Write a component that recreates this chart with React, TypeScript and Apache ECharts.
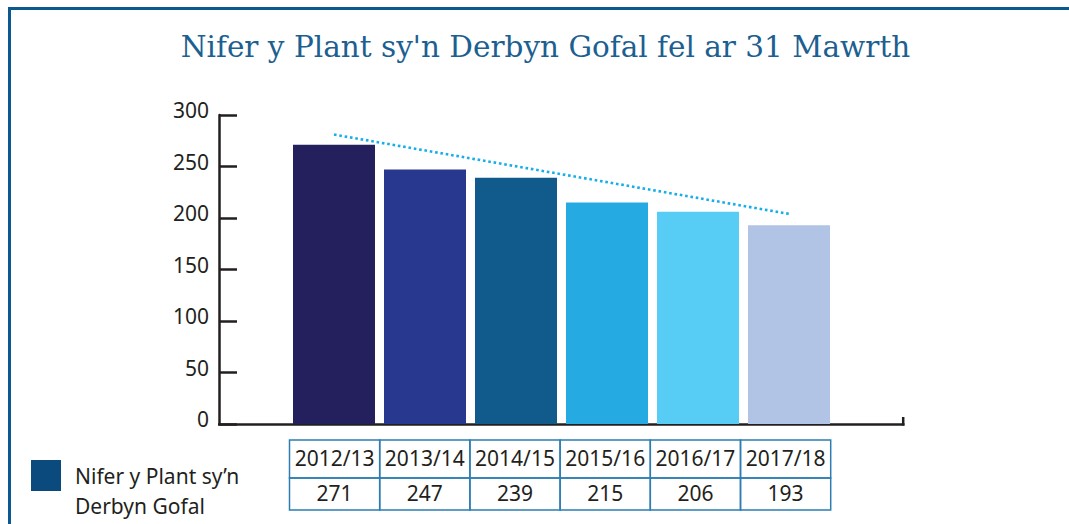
import React, { useEffect, useRef } from "react";
import * as echarts from "echarts";

const titleText = "Nifer y Plant sy'n Derbyn Gofal fel ar 31 Mawrth";
const seriesName = "Nifer y Plant sy’n\nDerbyn Gofal";
const categories = ["2012/13", "2013/14", "2014/15", "2015/16", "2016/17", "2017/18"];
const values = [271, 247, 239, 215, 206, 193];
const barColors = ["#24205e", "#28388f", "#115a8c", "#25abe2", "#57cdf6", "#b1c4e5"];
const trendValues = [281, null, null, null, null, 204];
const yTicks = { min: 0, max: 300, interval: 50 };

const FONT = "'Noto Sans', 'Open Sans', sans-serif";
const INK = "#231f20";

export default function App() {
  const ref = useRef<HTMLDivElement>(null);

  useEffect(() => {
    document.body.style.margin = "0";
    if (!ref.current) return;
    const chart = echarts.init(ref.current, undefined, { renderer: "svg" });

    const tableLeft = 289.5;
    const colW = 90.2;
    const rowTop = 440;
    const headH = 38;
    const valH = 32;
    const tableEls: any[] = [];
    categories.forEach((c, i) => {
      const x = tableLeft + i * colW;
      tableEls.push({
        type: "rect",
        shape: { x, y: rowTop, width: colW, height: headH },
        style: { fill: "none", stroke: "#2d7db3", lineWidth: 1.5 },
      });
      tableEls.push({
        type: "rect",
        shape: { x, y: rowTop + headH, width: colW, height: valH },
        style: { fill: "none", stroke: "#2d7db3", lineWidth: 1.5 },
      });
      tableEls.push({
        type: "text",
        x: x + colW / 2,
        y: rowTop + headH / 2 - 1.5,
        style: { text: c, fontSize: 21, fontFamily: FONT, fill: INK, align: "center", verticalAlign: "middle" },
      });
      tableEls.push({
        type: "text",
        x: x + colW / 2,
        y: rowTop + headH + valH / 2 - 1.5,
        style: { text: String(values[i]), fontSize: 21, fontFamily: FONT, fill: INK, align: "center", verticalAlign: "middle" },
      });
    });

    const option: any = {
      animation: false,
      grid: { left: 288.5, right: 234.5, top: 115, bottom: 100, containLabel: false },
      xAxis: {
        type: "category",
        data: categories,
        axisLine: { show: false },
        axisTick: { show: false },
        axisLabel: { show: false },
        splitLine: { show: false },
      },
      yAxis: {
        type: "value",
        min: yTicks.min,
        max: yTicks.max,
        interval: yTicks.interval,
        offset: 69.5,
        axisLine: { show: true, lineStyle: { color: INK, width: 2.5 } },
        axisTick: { show: true, inside: true, length: 18, lineStyle: { color: INK, width: 2.5 } },
        axisLabel: {
          color: INK,
          fontSize: 21,
          fontFamily: FONT,
          margin: 10,
          formatter: "{v|{value}}",
          rich: { v: { fontSize: 21, fontFamily: FONT, color: INK, padding: [0, 0, 10, 0] } },
        },
        splitLine: { show: false },
      },
      series: [
        {
          name: seriesName,
          type: "bar",
          barWidth: 82,
          itemStyle: { color: "#0a4a7c" },
          data: values.map((v, i) => ({ value: v, itemStyle: { color: barColors[i] } })),
          z: 2,
        },
        {
          name: "trend",
          type: "line",
          data: trendValues,
          connectNulls: true,
          symbol: "none",
          lineStyle: { color: "#16aee8", width: 2.6, type: [2.6, 2.8], cap: "butt" },
          z: 5,
        },
      ],
      graphic: [
        { type: "line", shape: { x1: 9.5, y1: 8.5, x2: 1069, y2: 8.5 }, style: { stroke: "#0b5a8f", lineWidth: 3 } },
        { type: "line", shape: { x1: 9.5, y1: 7, x2: 9.5, y2: 524 }, style: { stroke: "#0b5a8f", lineWidth: 3 } },
        {
          type: "text",
          x: 545.5,
          y: 47,
          style: {
            text: titleText,
            fontSize: 29.5,
            fontFamily: "'DejaVu Serif', serif",
            fill: "#1c5f90",
            align: "center",
            verticalAlign: "middle",
          },
        },
        { type: "line", shape: { x1: 218, y1: 424.5, x2: 904.5, y2: 424.5 }, style: { stroke: INK, lineWidth: 2.5 } },
        { type: "line", shape: { x1: 903.2, y1: 417, x2: 903.2, y2: 425.5 }, style: { stroke: INK, lineWidth: 2.5 } },
        { type: "rect", shape: { x: 31, y: 460, width: 30, height: 31 }, style: { fill: "#0a4a7c" } },
        {
          type: "text",
          x: 75,
          y: 461,
          style: {
            text: seriesName,
            fontSize: 21,
            lineHeight: 30,
            fontFamily: FONT,
            fill: INK,
            align: "left",
            verticalAlign: "top",
          },
        },
        ...tableEls,
      ],
    };
    chart.setOption(option);
    return () => chart.dispose();
  }, []);

  return <div ref={ref} style={{ width: 1069, height: 524 }} />;
}
